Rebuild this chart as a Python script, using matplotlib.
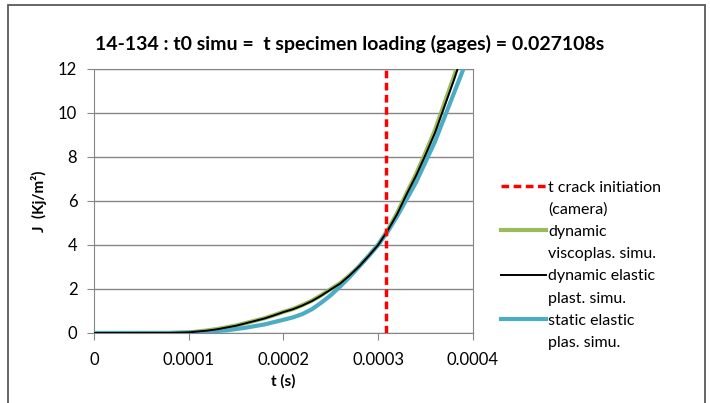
import numpy as np
import matplotlib.pyplot as plt
from matplotlib.patches import Rectangle
from matplotlib.lines import Line2D

plt.rcParams['font.family'] = ['Lato', 'DejaVu Sans']

# static elastic plastic simulation
t_static = [0, 0.00008, 0.0001, 0.00012, 0.00014, 0.00016, 0.00018, 0.0002, 0.00021,
            0.00022, 0.00023, 0.00024, 0.00025, 0.00026, 0.00027, 0.00028, 0.00029,
            0.0003, 0.00031, 0.00032, 0.00034, 0.00036, 0.00038, 0.00039, 0.0004]
J_static = [0, 0, 0.02, 0.06, 0.12, 0.24, 0.39, 0.6, 0.71, 0.86, 1.08, 1.38, 1.72,
            2.12, 2.55, 3.02, 3.5, 4.0, 4.6, 5.3, 6.85, 8.7, 10.9, 12.0, 13.2]

# dynamic curves (viscoplastic and elastic plastic)
t_dyn = [0, 0.00008, 0.0001, 0.00011, 0.00012, 0.00013, 0.00014, 0.00015, 0.00016,
         0.00017, 0.00018, 0.00019, 0.0002, 0.00021, 0.00022, 0.00023, 0.00024,
         0.00025, 0.00026, 0.00027, 0.00028, 0.00029, 0.0003, 0.00031, 0.00032,
         0.00033, 0.00034, 0.00035, 0.00036, 0.00037, 0.00038, 0.00039]
J_elast = [0, 0.005, 0.03, 0.07, 0.11, 0.17, 0.25, 0.33, 0.44, 0.55, 0.66, 0.8, 0.95,
           1.08, 1.25, 1.45, 1.7, 1.98, 2.25, 2.62, 3.03, 3.5, 4.0, 4.65, 5.4, 6.3,
           7.15, 8.1, 9.1, 10.3, 11.5, 12.8]
J_visco = [0, 0.005, 0.03, 0.07, 0.12, 0.18, 0.26, 0.34, 0.45, 0.56, 0.67, 0.81, 0.96,
           1.09, 1.27, 1.47, 1.72, 2.0, 2.27, 2.63, 3.04, 3.52, 4.02, 4.68, 5.45,
           6.35, 7.22, 8.2, 9.22, 10.45, 11.65, 13.0]

t_crack = 0.000308

fig = plt.figure(figsize=(7.1, 4.03), dpi=100)
ax = fig.add_axes([0.1324, 0.1737, 0.5336, 0.6551])

h_crack = ax.axvline(t_crack, color='#ff0000', lw=2.5, ls=(0, (2.2, 1.3)), zorder=5)
h_visco, = ax.plot(t_dyn, J_visco, color='#9bbb59', lw=3, zorder=3)
h_elast, = ax.plot(t_dyn, J_elast, color='black', lw=1.4, zorder=4)
h_static, = ax.plot(t_static, J_static, color='#4bacc6', lw=3, zorder=3)

ax.set_xlim(0, 0.0004)
ax.set_ylim(0, 12)
ax.set_xticks([0, 0.0001, 0.0002, 0.0003, 0.0004])
ax.set_xticklabels(['0', '0.0001', '0.0002', '0.0003', '0.0004'])
ax.set_yticks(range(0, 13, 2))
ax.grid(axis='y', color='#868686', lw=1)
ax.set_axisbelow(True)
for s in ax.spines.values():
    s.set_color('#868686')
ax.tick_params(colors='#868686', labelcolor='black', labelsize=12, length=5)
ax.tick_params(axis='x', pad=9)
ax.tick_params(axis='y', pad=7)

ax.set_xlabel('t (s)', fontsize=11, fontweight='bold', labelpad=4)
ax.set_ylabel('J  (Kj/m²)', fontsize=11, fontweight='bold', labelpad=8)
ax.set_title('14-134 : t0 simu =  t specimen loading (gages) = 0.027108s',
             fontsize=14, fontweight='bold', pad=14, x=0.675)

# legend: one row per text line, handle on the first line of each label
blank = Line2D([], [], alpha=0)
handles = [h_crack, blank, h_visco, blank, h_elast, blank, h_static, blank]
labels = ['t crack initiation', '(camera)', 'dynamic', 'viscoplas. simu.',
          'dynamic elastic', 'plast. simu.', 'static elastic', 'plas. simu.']
ax.legend(handles, labels, loc='upper left', bbox_to_anchor=(487 / 710, 1 - 166 / 403),
          bbox_transform=fig.transFigure, frameon=False,
          fontsize=11.5, handlelength=2.8, handletextpad=0.15, labelspacing=0.5)

fig.patches.append(Rectangle((8 / 710, -0.05), 697 / 710, 1 - 5 / 403 + 0.05,
                             transform=fig.transFigure, fill=False,
                             edgecolor='#595959', lw=1.3))

fig.savefig('out.png', dpi=100)
